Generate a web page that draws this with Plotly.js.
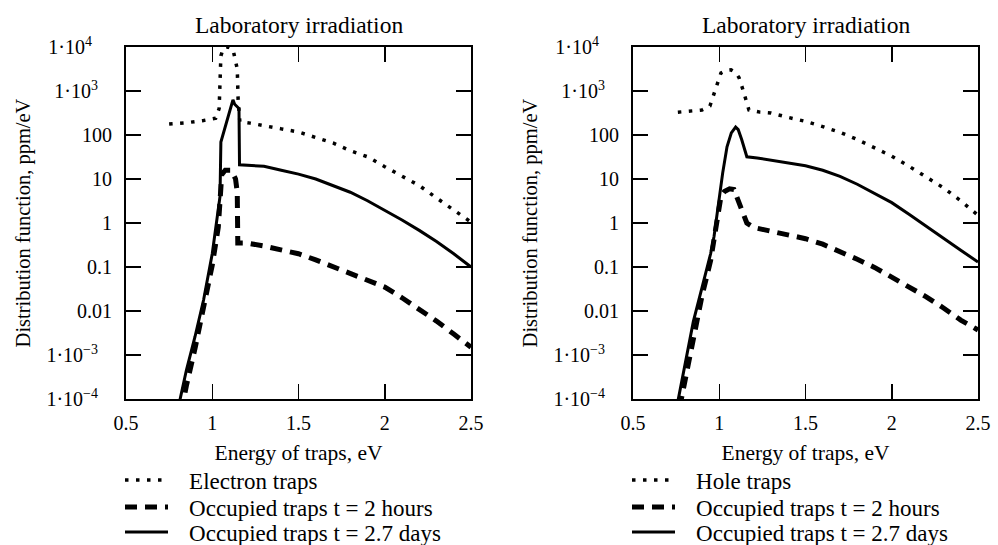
<!DOCTYPE html>
<html>
<head>
<meta charset="utf-8">
<script src="https://cdn.plot.ly/plotly-3.0.1.min.js"></script>
<style>
  html, body { margin: 0; padding: 0; background: #fff; }
  #chart { width: 998px; height: 545px; }
</style>
</head>
<body>
<div id="chart"></div>
<script>
// Energy of traps (eV) and distribution function (ppm/eV), left panel: electron traps
const elecTrapsE = [0.75, 0.85, 0.95, 1.02, 1.04, 1.045, 1.05, 1.065, 1.09, 1.12, 1.145, 1.15, 1.16, 1.22, 1.3, 1.4, 1.5, 1.6, 1.7, 1.8, 1.9, 2.0, 2.1, 2.2, 2.3, 2.4, 2.5];
const elecTraps  = [178, 190, 214, 240, 400, 1580, 6300, 9500, 10000, 8900, 3160, 630, 200, 186, 166, 138, 117, 87, 66, 44, 32, 19, 11.7, 7.1, 3.7, 2.0, 1.05];

const elecHoursE = [0.82, 0.85, 0.9, 0.95, 1.0, 1.035, 1.045, 1.055, 1.075, 1.11, 1.135, 1.145, 1.148, 1.2, 1.3, 1.4, 1.5, 1.6, 1.7, 1.8, 1.9, 2.0, 2.1, 2.2, 2.3, 2.4, 2.5];
const elecHours  = [5e-5, 2e-4, 1.4e-3, 0.011, 0.11, 0.8, 4, 12.6, 15.8, 15.8, 10, 5, 0.35, 0.35, 0.30, 0.25, 0.2, 0.145, 0.1, 0.071, 0.05, 0.035, 0.02, 0.0112, 0.0059, 0.003, 0.0015];

const elecDaysE = [0.8, 0.85, 0.9, 0.95, 1.0, 1.035, 1.045, 1.05, 1.12, 1.13, 1.155, 1.158, 1.3, 1.4, 1.5, 1.6, 1.7, 1.8, 1.9, 2.0, 2.1, 2.2, 2.3, 2.4, 2.5];
const elecDays  = [5.6e-5, 4.5e-4, 2.6e-3, 0.018, 0.2, 2.0, 4.0, 69, 630, 500, 400, 21, 19.5, 15.8, 12.9, 10, 7.2, 5.0, 3.2, 1.95, 1.17, 0.68, 0.38, 0.2, 0.1];

// Right panel: hole traps
const holeTrapsE = [0.76, 0.9, 0.946, 0.965, 0.987, 1.01, 1.04, 1.068, 1.095, 1.115, 1.138, 1.155, 1.172, 1.236, 1.3, 1.4, 1.5, 1.6, 1.7, 1.8, 1.9, 2.0, 2.1, 2.2, 2.3, 2.4, 2.5];
const holeTraps  = [330, 370, 457, 794, 1510, 2570, 2950, 3020, 2630, 2000, 1050, 590, 372, 331, 316, 251, 204, 155, 115, 79, 51, 33, 19.5, 11.2, 6.3, 3.2, 1.5];

const holeHoursE = [0.77, 0.8, 0.85, 0.9, 0.95, 0.97, 0.99, 1.01, 1.03, 1.06, 1.085, 1.11, 1.135, 1.16, 1.2, 1.3, 1.4, 1.5, 1.6, 1.7, 1.8, 1.9, 2.0, 2.1, 2.2, 2.3, 2.4, 2.5];
const holeHours  = [6.3e-5, 2.5e-4, 2.5e-3, 0.022, 0.14, 0.45, 1.8, 4, 5.2, 6, 5.8, 3.2, 1.6, 1.0, 0.79, 0.65, 0.54, 0.44, 0.33, 0.23, 0.15, 0.098, 0.06, 0.035, 0.021, 0.0117, 0.0062, 0.0037];

const holeDaysE = [0.75, 0.8, 0.85, 0.9, 0.95, 0.97, 1.0, 1.02, 1.045, 1.07, 1.095, 1.11, 1.13, 1.16, 1.22, 1.3, 1.4, 1.5, 1.6, 1.7, 1.8, 1.9, 2.0, 2.1, 2.2, 2.3, 2.4, 2.5];
const holeDays  = [5.5e-5, 5.6e-4, 5.8e-3, 0.034, 0.2, 0.5, 4, 13.8, 54, 112, 151, 132, 79, 32, 30, 27, 23.4, 20, 15.8, 11.5, 7.6, 4.8, 2.9, 1.58, 0.83, 0.45, 0.24, 0.13];

// Axis ticks
const xTicks = [0.5, 1, 1.5, 2, 2.5];
const xTickText = ['0.5', '1', '1.5', '2', '2.5'];
const yTicks = [1e-4, 1e-3, 0.01, 0.1, 1, 10, 100, 1e3, 1e4];
const SP = '\u2002';
const yTickText = ['1\u00b710<sup>\u22124</sup>' + SP + '\u2009', '1\u00b710<sup>\u22123</sup>' + SP + '\u2009', '0.01', '0.1', '1', '10', '100',
                   '1\u00b710<sup>3</sup>' + SP + '\u2009', '1\u00b710<sup>4</sup>' + SP + SP];

const W = 998, H = 545;
const FONT = 'Liberation Serif, Times New Roman, serif';

const dotted = { color: '#000', width: 3.5, dash: '3.5px,7.5px' };
const dashed = { color: '#000', width: 5, dash: '12px,8px' };
const solid  = { color: '#000', width: 3 };

// legend labels carry a small lead-in gap after the line sample
const GAP = '\u2002\u2009';
const traces = [
  { x: elecTrapsE, y: elecTraps, name: GAP + 'Electron traps', line: dotted, xaxis: 'x', yaxis: 'y', legend: 'legend' },
  { x: elecHoursE, y: elecHours, name: GAP + 'Occupied traps t = 2 hours', line: dashed, xaxis: 'x', yaxis: 'y', legend: 'legend2' },
  { x: elecDaysE, y: elecDays, name: GAP + 'Occupied traps t = 2.7 days', line: solid, xaxis: 'x', yaxis: 'y', legend: 'legend3' },
  { x: holeTrapsE, y: holeTraps, name: GAP + 'Hole traps', line: dotted, xaxis: 'x2', yaxis: 'y2', legend: 'legend4' },
  { x: holeHoursE, y: holeHours, name: GAP + 'Occupied traps t = 2 hours', line: dashed, xaxis: 'x2', yaxis: 'y2', legend: 'legend5' },
  { x: holeDaysE, y: holeDays, name: GAP + 'Occupied traps t = 2.7 days', line: solid, xaxis: 'x2', yaxis: 'y2', legend: 'legend6' }
].map(t => Object.assign({ type: 'scatter', mode: 'lines', hoverinfo: 'skip', showlegend: true }, t));

function xAxis(domain, anchor) {
  return {
    domain: domain, anchor: anchor, range: [0.5, 2.5],
    tickvals: xTicks, ticktext: xTickText,
    ticks: 'inside', ticklen: 15, tickwidth: 1.5, tickcolor: '#000',
    showline: true, linewidth: 2, linecolor: '#000', mirror: 'ticks',
    showgrid: false, zeroline: false, ticklabelstandoff: 5,
    tickfont: { family: FONT, size: 20, color: '#000' },
    title: { text: 'Energy of traps, eV', standoff: 12, font: { family: FONT, size: 21.5, color: '#000' } }
  };
}
function yAxis(domain, anchor) {
  return {
    domain: domain, anchor: anchor, type: 'log', range: [-4, 4],
    tickvals: yTicks, ticktext: yTickText,
    ticks: 'inside', ticklen: 15, tickwidth: 1.5, tickcolor: '#000',
    showline: true, linewidth: 2, linecolor: '#000', mirror: 'ticks',
    showgrid: false, zeroline: false, ticklabelstandoff: 8,
    tickfont: { family: FONT, size: 20, color: '#000' },
    title: { text: 'Distribution function, ppm/eV', standoff: 10, font: { family: FONT, size: 20.5, color: '#000' } }
  };
}

const yDom = [(H - 399) / H, (H - 47) / H];
const rowY = [480, 507, 532];
function legendAt(xpx, row) {
  return {
    visible: true,
    x: xpx / W, y: (H - rowY[row]) / H, xanchor: 'left', yanchor: 'middle',
    bgcolor: 'rgba(0,0,0,0)', borderwidth: 0, itemwidth: 43,
    font: { family: FONT, size: 23, color: '#000' }
  };
}

const titleFont = { family: FONT, size: 23.5, color: '#000' };
const layout = {
  width: W, height: H,
  showlegend: true,
  margin: { l: 0, r: 0, t: 0, b: 0, autoexpand: false },
  paper_bgcolor: '#fff', plot_bgcolor: '#fff',
  font: { family: FONT, size: 20, color: '#000' },
  xaxis: xAxis([126 / W, 471 / W], 'y'),
  yaxis: yAxis(yDom, 'x'),
  xaxis2: xAxis([633 / W, 978 / W], 'y2'),
  yaxis2: yAxis(yDom, 'x2'),
  legend: legendAt(120, 0), legend2: legendAt(120, 1), legend3: legendAt(120, 2),
  legend4: legendAt(627, 0), legend5: legendAt(627, 1), legend6: legendAt(627, 2),
  annotations: [
    { text: 'Laboratory irradiation', xref: 'paper', yref: 'paper', x: (126 + 471) / 2 / W, y: (H - 25) / H,
      xanchor: 'center', yanchor: 'middle', showarrow: false, font: titleFont },
    { text: 'Laboratory irradiation', xref: 'paper', yref: 'paper', x: (633 + 978) / 2 / W, y: (H - 25) / H,
      xanchor: 'center', yanchor: 'middle', showarrow: false, font: titleFont }
  ]
};

Plotly.newPlot('chart', traces, layout, { staticPlot: true, displayModeBar: false });
</script>
</body>
</html>
